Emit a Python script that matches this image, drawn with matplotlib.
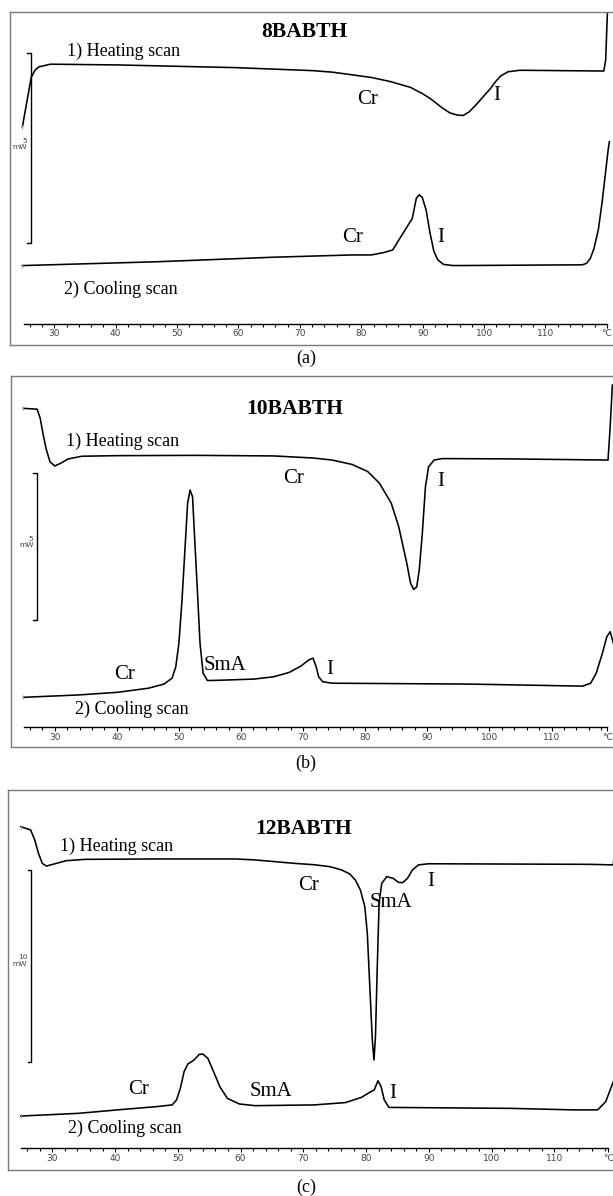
import numpy as np
import matplotlib
matplotlib.use('Agg')
import matplotlib.pyplot as plt

# ---- DSC traces (temperature in C, heat flow in mW, arbitrary offset)
a_heat_T = [24.8, 26.25, 26.9, 27.5, 29.4, 40.3, 59.4, 72.1, 75.3, 78.5, 81.65, 84.8, 88.0,
            89.9, 91.2, 93.1, 94.4, 95.65, 96.6, 97.6, 98.8, 100.1, 101.1, 101.7, 102.7,
            103.9, 105.8, 119.5, 119.8, 120.1]
a_heat_mw = [5.74, 7.05, 7.24, 7.32, 7.39, 7.37, 7.30, 7.22, 7.18, 7.11, 7.04, 6.93, 6.78,
             6.62, 6.49, 6.25, 6.11, 6.05, 6.04, 6.14, 6.34, 6.58, 6.76, 6.90, 7.08,
             7.19, 7.23, 7.21, 7.50, 8.82]
a_cool_T = [24.8, 46.6, 65.7, 78.5, 81.65, 83.6, 85.1, 88.3, 88.96, 89.41, 89.92, 90.56, 91.2,
            91.83, 92.46, 93.4, 95.0, 116.0, 116.7, 117.3, 117.9, 118.6, 119.2, 119.7,
            120.2, 120.4]
a_cool_mw = [2.09, 2.19, 2.31, 2.37, 2.37, 2.43, 2.50, 3.33, 3.86, 3.95, 3.89, 3.55, 2.94,
             2.46, 2.24, 2.12, 2.09, 2.11, 2.15, 2.28, 2.54, 3.03, 3.73, 4.43, 5.13, 5.35]

b_heat_T = [24.96, 27.17, 27.67, 28.1, 28.6, 29.24, 30.0, 30.76, 32.2, 34.4, 40.1, 52.7, 65.3,
            71.6, 74.7, 77.9, 80.4, 82.3, 84.2, 85.4, 86.7, 87.3, 87.8, 88.3, 88.7, 89.2,
            89.7, 90.2, 91.1, 92.4, 103.1, 119.1, 119.45, 119.8]
b_heat_mw = [11.52, 11.49, 11.18, 10.67, 10.16, 9.70, 9.56, 9.63, 9.80, 9.89, 9.91, 9.92, 9.90,
             9.83, 9.76, 9.61, 9.37, 8.97, 8.29, 7.49, 6.25, 5.57, 5.36, 5.45, 6.02, 7.27,
             8.85, 9.53, 9.76, 9.81, 9.80, 9.76, 10.90, 12.31]
b_cool_T = [24.96, 33.8, 40.1, 45.1, 47.6, 48.9, 49.5, 50.0, 50.5, 51.0, 51.4, 51.8, 52.2,
            52.55, 53.0, 53.4, 53.9, 54.6, 56.5, 62.1, 65.3, 67.8, 69.7, 70.9, 71.6, 72.1,
            72.5, 73.15, 74.7, 96.8, 115.0, 116.3, 117.2, 118.2, 118.9, 119.45, 119.95]
b_cool_mw = [1.69, 1.77, 1.86, 2.00, 2.14, 2.34, 2.73, 3.53, 5.00, 6.81, 8.29, 8.74, 8.51,
             7.04, 5.23, 3.53, 2.51, 2.26, 2.27, 2.31, 2.39, 2.54, 2.76, 2.96, 3.02, 2.73,
             2.39, 2.22, 2.17, 2.14, 2.07, 2.17, 2.51, 3.19, 3.75, 3.92, 3.54]

c_heat_T = [24.98, 26.55, 27.2, 27.8, 28.4, 29.06, 30.3, 32.2, 35.3, 46.6, 59.2, 62.3, 65.45,
            68.6, 71.7, 74.2, 76.1, 77.4, 78.3, 79.1, 79.8, 80.2, 80.6, 81.0, 81.26, 81.5,
            81.76, 82.08, 82.5, 83.3, 84.3, 85.2, 85.85, 86.6, 87.4, 88.35, 89.9, 115.6,
            119.4, 119.7, 119.8]
c_heat_mw = [17.88, 17.71, 17.19, 16.49, 15.97, 15.83, 15.94, 16.11, 16.18, 16.20, 16.20, 16.15,
             16.06, 15.97, 15.90, 15.80, 15.63, 15.42, 15.10, 14.58, 13.72, 12.33, 9.55, 6.77,
             5.73, 6.94, 10.24, 13.89, 14.93, 15.28, 15.19, 14.98, 14.97, 15.19, 15.63, 15.89,
             15.95, 15.92, 15.89, 17.01, 17.92]
c_cool_T = [24.98, 34.1, 40.35, 46.6, 49.1, 49.8, 50.4, 51.0, 51.6, 52.6, 53.4, 54.0, 54.8,
            55.7, 56.7, 57.9, 59.8, 62.3, 71.7, 76.7, 79.25, 80.5, 81.3, 81.9, 82.4, 82.9,
            83.65, 103.1, 113.1, 116.9, 118.2, 119.1, 119.9]
c_cool_mw = [2.81, 2.95, 3.13, 3.30, 3.39, 3.65, 4.25, 5.12, 5.52, 5.73, 6.02, 6.04, 5.81,
             5.12, 4.34, 3.73, 3.44, 3.35, 3.39, 3.51, 3.78, 4.03, 4.17, 4.65, 4.34, 3.65,
             3.26, 3.21, 3.13, 3.13, 3.56, 4.34, 5.04]

titles = ['8BABTH', '10BABTH', '12BABTH']
captions = ['(a)', '(b)', '(c)']
scale_mw = [5, 5, 10]                      # size of the mW scale bar
scale_lo = [2.68, 4.32, 5.625]
scale_T = [26.2, 27.17, 26.67]
major_T = [30, 40, 50, 60, 70, 80, 90, 100, 110]
end_T = [120.0, 119.0, 118.6]

# phase labels: (text, T, mW, size, ha)
a_labels = [('1) Heating scan', 32.0, 7.74, 13, 'left'), ('Cr', 81.0, 6.47, 15, 'center'),
            ('I', 102.1, 6.56, 15, 'center'), ('Cr', 78.5, 2.83, 15, 'center'),
            ('I', 92.9, 2.83, 15, 'center'), ('2) Cooling scan', 31.5, 1.47, 13, 'left')]
b_labels = [('1) Heating scan', 31.8, 10.39, 13, 'left'), ('Cr', 68.5, 9.14, 15, 'center'),
            ('I', 92.2, 9.02, 15, 'center'), ('Cr', 41.2, 2.47, 15, 'center'),
            ('SmA', 57.4, 2.77, 15, 'center'), ('I', 74.3, 2.62, 15, 'center'),
            ('2) Cooling scan', 33.2, 1.29, 13, 'left')]
c_labels = [('1) Heating scan', 31.25, 16.84, 13, 'left'), ('Cr', 70.8, 14.84, 15, 'center'),
            ('SmA', 84.0, 13.92, 15, 'center'), ('I', 90.35, 15.02, 15, 'center'),
            ('Cr', 43.8, 4.17, 15, 'center'), ('SmA', 64.9, 4.08, 15, 'center'),
            ('I', 84.3, 3.99, 15, 'center'), ('2) Cooling scan', 32.5, 2.17, 13, 'left')]
title_pos = [(70.8, 8.24), (68.7, 11.5), (70.0, 17.76)]
unit_pos = [(25.6, 5.29), (26.6, 6.97), (26.0, 10.9)]

traces = [(a_heat_T, a_heat_mw, a_cool_T, a_cool_mw),
          (b_heat_T, b_heat_mw, b_cool_T, b_cool_mw),
          (c_heat_T, c_heat_mw, c_cool_T, c_cool_mw)]
labels = [a_labels, b_labels, c_labels]

# ---- layout in pixels of the 613x1196 page
W, H = 613.0, 1196.0
box_left = [10.0, 10.6, 8.3]
box_top = [12.0, 376.0, 790.0]
box_bot = [345.0, 747.0, 1170.0]
t30_px = [54.3, 54.7, 52.3]
px_per_deg = [6.14, 6.21, 6.275]
px_per_mw = [38.0, 29.4, 19.2]
axis_y = [323.5, 727.3, 1148.0]
caption_y = [358.0, 763.0, 1187.0]

serif = {'family': ['Liberation Serif', 'DejaVu Serif']}

fig = plt.figure(figsize=(W / 100, H / 100), dpi=100)

for i in range(3):
    right_px = 622.0
    xlo = 30 - (t30_px[i] - box_left[i]) / px_per_deg[i]
    xhi = 30 + (right_px - t30_px[i]) / px_per_deg[i]
    ax = fig.add_axes([box_left[i] / W, 1 - box_bot[i] / H,
                       (right_px - box_left[i]) / W, (box_bot[i] - box_top[i]) / H])
    ax.set_xlim(xlo, xhi)
    ax.set_ylim(0, (box_bot[i] - box_top[i]) / px_per_mw[i])
    ax.set_xticks([])
    ax.set_yticks([])
    for s in ax.spines.values():
        s.set_color('#7a7a7a')
        s.set_linewidth(1.0)

    hT, hW, cT, cW = traces[i]
    ax.plot(hT, hW, color='k', lw=1.15, solid_joinstyle='round')
    ax.plot(cT, cW, color='k', lw=1.15, solid_joinstyle='round')
    # little start markers left by the instrument software
    ax.plot([hT[0], cT[0]], [hW[0], cW[0]], ls='none', marker='|', ms=3, mew=0.8, color='#999999')

    # mW scale bar
    lo, hi, xb = scale_lo[i], scale_lo[i] + scale_mw[i], scale_T[i]
    ax.plot([xb - 0.6, xb, xb, xb - 0.6], [hi, hi, lo, lo], color='k', lw=1.0)
    ux, uy = unit_pos[i]
    ax.text(ux, uy, '%d\nmW' % scale_mw[i], ha='right', va='center', fontsize=5.3,
            color='#444444', linespacing=1.1, multialignment='right')

    tx, ty = title_pos[i]
    ax.text(tx, ty, titles[i], ha='center', va='center', fontsize=15.5,
            fontweight='bold', fontdict=serif)
    for txt, x, y, fs, ha in labels[i]:
        ax.text(x, y, txt, ha=ha, va='center', fontsize=fs, fontdict=serif)

    # temperature scale drawn inside the box
    tax = fig.add_axes([box_left[i] / W, 1 - axis_y[i] / H,
                        (right_px - box_left[i]) / W, 0.5 / H])
    tax.set_xlim(xlo, xhi)
    tax.set_yticks([])
    tax.patch.set_visible(False)
    for side in ['top', 'left', 'right']:
        tax.spines[side].set_visible(False)
    tax.spines['bottom'].set_bounds(25, end_T[i])
    tax.spines['bottom'].set_linewidth(1.0)
    tax.set_xticks(major_T + [end_T[i]])
    tax.set_xticklabels([str(t) for t in major_T] + ['\u00b0C'])
    tax.set_xticks([t for t in range(26, 119, 2) if t % 10], minor=True)
    tax.tick_params(axis='x', which='major', direction='out', length=2.8, width=0.8,
                    pad=1.2, labelsize=6.5, labelcolor='#444444')
    tax.tick_params(axis='x', which='minor', direction='out', length=1.8, width=0.8)

    fig.text(306 / W, 1 - caption_y[i] / H, captions[i], ha='center', va='center',
             fontsize=13, fontdict=serif)

fig.savefig('out.png', dpi=100)
